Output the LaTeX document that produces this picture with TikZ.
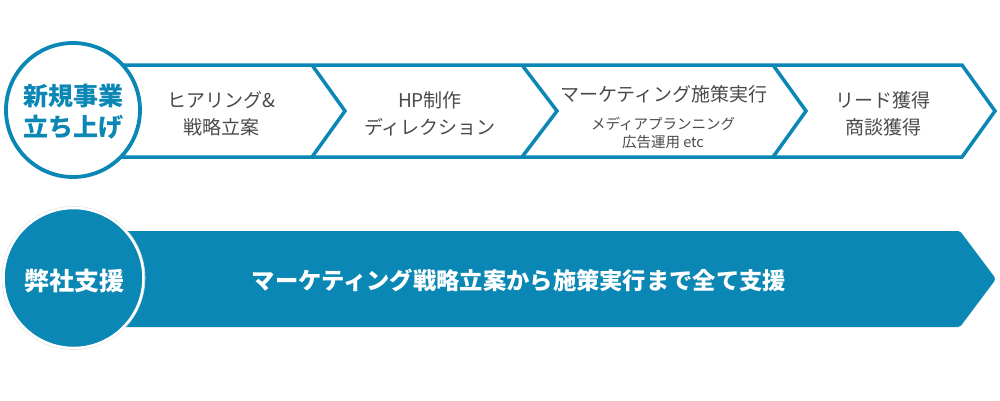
\documentclass[tikz,border=0pt]{standalone}
\usepackage{fontspec}
\setmainfont{Noto Sans CJK JP}
\begin{document}
\begin{tikzpicture}[x=1pt,y=-1pt,
  every node/.style={inner sep=0pt,align=center},
  band/.style={draw=mainblue,line width=3.5pt,line join=miter},
  steptext/.style={text=txtgray,font=\fontsize{19}{27}\selectfont},
  smalltext/.style={text=txtgray,font=\fontsize{14.5}{18.5}\selectfont},
  circtext/.style={font=\bfseries\fontsize{25}{31}\selectfont}]
\definecolor{mainblue}{HTML}{0A87B4}
\definecolor{txtgray}{HTML}{4A4A4A}
\useasboundingbox (0,0) rectangle (1000,400);
\fill[white] (0,0) rectangle (1000,400);
% top band
\draw[band] (100,65) -- (962,65) -- (995,111) -- (962,157) -- (100,157);
\draw[band] (312,65) -- (345,111) -- (312,157);
\draw[band] (522,65) -- (557,111) -- (522,157);
\draw[band] (773,65) -- (806,111) -- (773,157);
\node[circle,draw=mainblue,fill=white,line width=3.8pt,minimum size=134pt] (c1) at (73,110) {};
\node[circtext,text=mainblue] (t1) at (73,112) {新規事業\\立ち上げ};
\node[steptext] (s1) at (221,114) {ヒアリング\&\\戦略立案};
\node[steptext] (s2) at (430,114) {HP制作\\ディレクション};
\node[steptext] (s3) at (664,94) {マーケティング施策実行};
\node[smalltext] (s3b) at (663,133) {メディアプランニング\\広告運用 etc};
\node[steptext] (s4) at (883,114) {リード獲得\\商談獲得};
% bottom band
\fill[mainblue,rounded corners=2pt] (100,231) -- (960,231) [rounded corners=3pt]-- (996,279) [rounded corners=2pt]-- (960,327) -- (100,327) -- cycle;
\node[circle,draw=gray!25,line width=0.6pt,minimum size=143pt] (c2o) at (73.5,278) {};
\node[circle,fill=mainblue,draw=white,line width=2.5pt,minimum size=140pt] (c2) at (73.5,278) {};
\node[circtext,text=white] (t2) at (74,281) {弊社支援};
\node[text=white,font=\bfseries\fontsize{23.3}{27}\selectfont] (t3) at (519,280) {マーケティング戦略立案から施策実行まで全て支援};
\end{tikzpicture}
\end{document}
